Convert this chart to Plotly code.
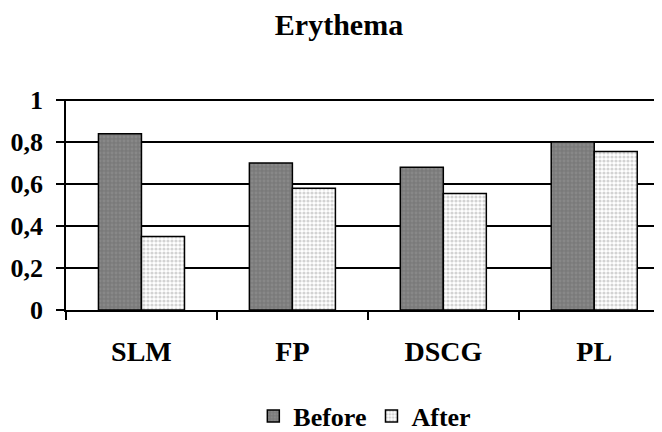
import plotly.graph_objects as go

categories = ["SLM", "FP", "DSCG", "PL"]
before = [0.84, 0.70, 0.68, 0.80]
after = [0.35, 0.58, 0.555, 0.755]
y_ticks = [0, 0.2, 0.4, 0.6, 0.8, 1]
y_tick_labels = ["0", "0,2", "0,4", "0,6", "0,8", "1"]

FONT = "Liberation Serif"

fig = go.Figure()
fig.add_trace(go.Bar(
    name="<b>Before</b>", x=categories, y=before,
    marker=dict(color="#7a7a7a", line=dict(color="black", width=1.5),
                pattern=dict(shape=".", fgcolor="#969696", bgcolor="#7a7a7a", size=4, solidity=0.4)),
))
fig.add_trace(go.Bar(
    name="<b>After</b>", x=categories, y=after,
    marker=dict(color="white", line=dict(color="black", width=1.5),
                pattern=dict(shape=".", fgcolor="#a8a8a8", bgcolor="white", size=4, solidity=0.5)),
))

fig.update_layout(
    width=662, height=432,
    paper_bgcolor="white", plot_bgcolor="white",
    margin=dict(l=58, r=8, t=91, b=130, autoexpand=False),
    barmode="group", bargap=0.43, bargroupgap=0,
    title=dict(text="<b>Erythema</b>", x=0.5, xanchor="center", y=0.962, yanchor="middle",
               font=dict(family=FONT, size=30, color="black")),
    font=dict(family=FONT, color="black"),
    showlegend=True,
    legend=dict(orientation="h", xref="container", yref="container", x=0.539, xanchor="center",
                y=0.0556, yanchor="middle", font=dict(family=FONT, size=26, color="black"),
                itemwidth=30, traceorder="normal"),
    xaxis=dict(
        type="category", range=[-0.5, 3.449], automargin=False,
        showline=True, linecolor="black", linewidth=1.5,
        ticks="outside", tickson="boundaries", ticklen=8, tickwidth=1.5, tickcolor="black",
        tickfont=dict(family=FONT, size=28, color="black"),
        ticklabelstandoff=16,
        tickprefix="<b>", ticksuffix="</b>",
        showgrid=False,
    ),
    yaxis=dict(
        range=[0, 1.005], automargin=False,
        tickvals=y_ticks, ticktext=["<b>" + t + "</b>" for t in y_tick_labels],
        showline=True, linecolor="black", linewidth=1.5,
        ticks="outside", ticklen=8, tickwidth=1.5, tickcolor="black",
        tickfont=dict(family=FONT, size=26, color="black"),
        ticklabelstandoff=8,
        showgrid=True, gridcolor="black", gridwidth=1.5,
        zeroline=False,
    ),
)

fig.write_html("out.html")
